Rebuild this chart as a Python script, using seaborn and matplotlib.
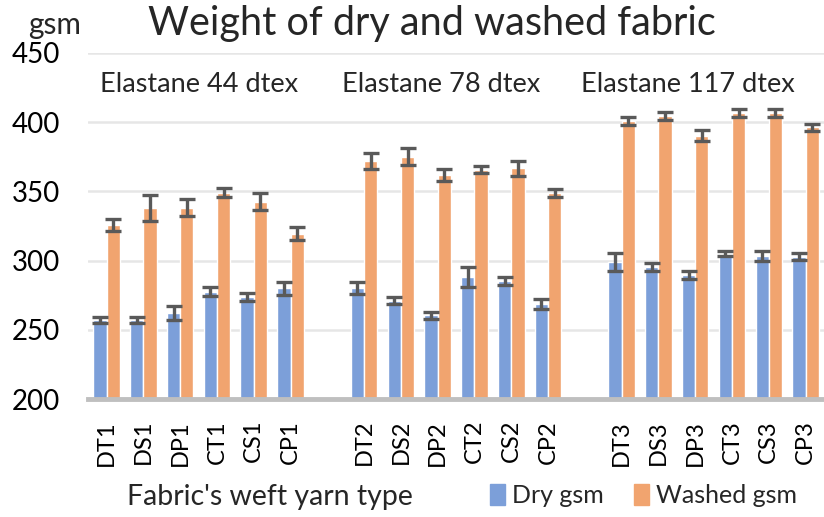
"""
Weight of dry and washed fabric, grouped by elastane count.
"""
import numpy as np
import pandas as pd
import seaborn as sns
import matplotlib.pyplot as plt
from matplotlib.patches import Patch

# blank entries separate the three elastane groups
categories = ["DT1", "DS1", "DP1", "CT1", "CS1", "CP1", " ",
              "DT2", "DS2", "DP2", "CT2", "CS2", "CP2", "  ",
              "DT3", "DS3", "DP3", "CT3", "CS3", "CP3"]
yarns = ["DT1", "DS1", "DP1", "CT1", "CS1", "CP1",
         "DT2", "DS2", "DP2", "CT2", "CS2", "CP2",
         "DT3", "DS3", "DP3", "CT3", "CS3", "CP3"]
dry_gsm = [257.1, 257.1, 262.2, 277.7, 273.9, 280.0,
           280.2, 271.0, 260.5, 288.4, 285.3, 268.7,
           299.2, 295.6, 289.7, 305.1, 303.3, 302.9]
dry_err = [2.4, 2.4, 5.2, 3.4, 2.9, 4.8,
           4.6, 2.5, 2.6, 7.2, 3.1, 3.6,
           6.5, 2.9, 3.0, 1.8, 3.6, 2.4]
washed_gsm = [325.9, 338.1, 338.3, 349.0, 342.6, 319.6,
              371.8, 375.1, 361.8, 365.8, 366.6, 349.0,
              401.0, 404.4, 390.4, 406.7, 406.7, 396.2]
washed_err = [4.2, 9.3, 6.0, 3.3, 6.0, 4.7,
              5.8, 6.0, 4.2, 2.6, 5.4, 3.1,
              3.0, 2.8, 4.0, 2.8, 2.8, 2.3]
group_labels = ["Elastane 44 dtex", "Elastane 78 dtex", "Elastane 117 dtex"]
group_label_x = [2.52, 9.08, 15.8]

BLUE = "#7C9FD9"
ORANGE = "#F1A46F"


def main():
    df = pd.DataFrame({
        "yarn": yarns * 2,
        "series": ["Dry gsm"] * len(yarns) + ["Washed gsm"] * len(yarns),
        "gsm": dry_gsm + washed_gsm,
        "err": dry_err + washed_err,
    })

    sns.set_style("white")
    plt.rcParams["font.family"] = ["Lato", "DejaVu Sans"]

    fig = plt.figure(figsize=(8.24, 5.17), dpi=100)
    ax = fig.add_axes([0.107, 0.228, 0.893, 0.6695])

    sns.barplot(data=df, x="yarn", y="gsm", hue="series", order=categories,
                hue_order=["Dry gsm", "Washed gsm"],
                palette=[BLUE, ORANGE], width=0.72, errorbar=None,
                saturation=1, ax=ax)

    # error bars at the centre of each drawn bar
    for cont, series in zip(ax.containers, ["Dry gsm", "Washed gsm"]):
        sub = df[df["series"] == series].set_index("yarn")
        for bar in cont:
            xc = bar.get_x() + bar.get_width() / 2
            cat = categories[int(round(xc))]
            ax.errorbar(xc, sub.loc[cat, "gsm"], yerr=sub.loc[cat, "err"],
                        fmt="none", ecolor="#595959", elinewidth=2.4,
                        capsize=6, capthick=2.4, zorder=5)

    ax.set_ylim(200, 450)
    ax.set_xlim(-0.5, len(categories) - 0.5)
    ax.set_yticks([200, 250, 300, 350, 400, 450])
    ax.yaxis.grid(True, color="#E6E6E6", linewidth=1.8)
    ax.set_axisbelow(True)
    sns.despine(ax=ax, left=True, top=True, right=True)
    ax.spines["bottom"].set_color("#BFBFBF")
    ax.spines["bottom"].set_linewidth(3.5)
    ax.tick_params(axis="both", length=0, colors="#000000")
    ax.tick_params(axis="y", pad=20, labelsize=20)
    ax.tick_params(axis="x", pad=15, labelsize=17)
    plt.setp(ax.get_xticklabels(), rotation=90)
    ax.set_xlabel("")
    ax.set_ylabel("")

    for label, x in zip(group_labels, group_label_x):
        ax.text(x, 427, label, ha="center", va="center", fontsize=19.5)

    fig.text(0.524, 0.955, "Weight of dry and washed fabric", ha="center",
             va="center", fontsize=28.5)
    fig.text(0.066, 0.952, "gsm", ha="center", va="center", fontsize=21.5)
    fig.text(0.328, 0.039, "Fabric's weft yarn type", ha="center",
             va="center", fontsize=20.5)

    ax.get_legend().remove()
    handles = [Patch(color=BLUE, label="Dry gsm"),
               Patch(color=ORANGE, label="Washed gsm")]
    fig.legend(handles=handles, loc="center right", ncol=2,
               bbox_to_anchor=(0.995, 0.042), frameon=False, fontsize=18,
               handlelength=0.6, handleheight=0.9, handletextpad=0.3,
               columnspacing=1.2)

    fig.savefig("out.png", dpi=100)


if __name__ == "__main__":
    main()
